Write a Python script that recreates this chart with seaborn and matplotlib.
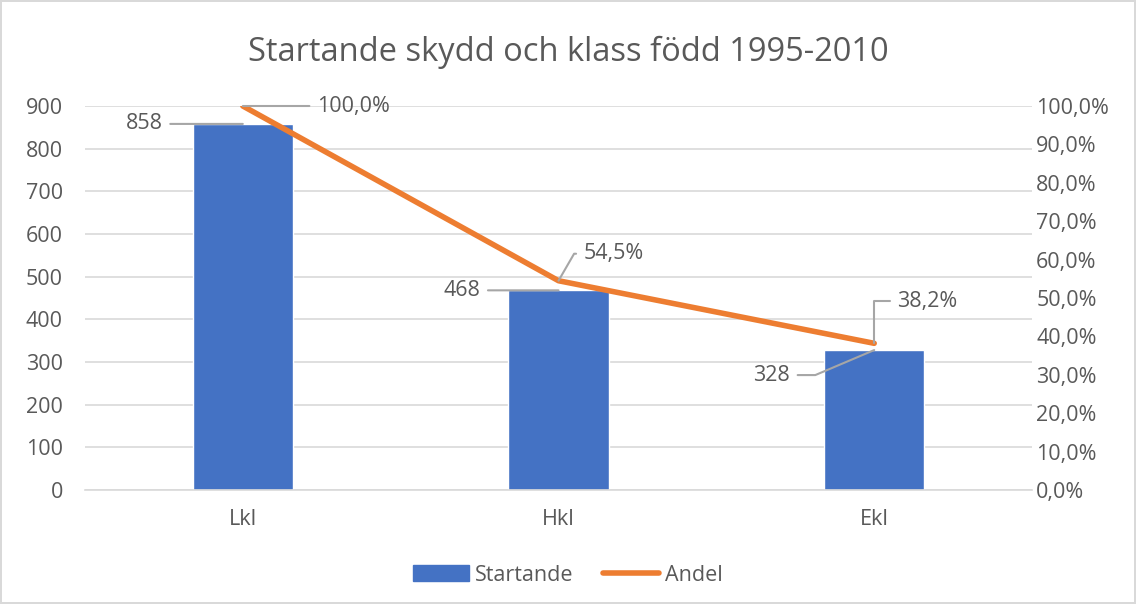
import numpy as np
import matplotlib
matplotlib.use("Agg")
import matplotlib.pyplot as plt
from matplotlib.ticker import FuncFormatter
from matplotlib.lines import Line2D
from matplotlib.patches import Patch
import pandas as pd
import seaborn as sns

# data
klasser = ["Lkl", "Hkl", "Ekl"]
startande = [858, 468, 328]
andel = [1.0, 0.545, 0.382]

BLUE = "#4472C4"
ORANGE = "#ED7D31"
TXT = "#595959"
GRID = "#D9D9D9"
LEAD = "#A6A6A6"
FS = 15.5

sns.set_theme(style="white")
plt.rcParams["font.family"] = ["Open Sans", "DejaVu Sans"]

df = pd.DataFrame({"klass": klasser, "Startande": startande, "Andel": andel})

fig = plt.figure(figsize=(11.36, 6.04), dpi=100)
fig.patch.set_edgecolor(GRID)
fig.patch.set_linewidth(1.5)
ax = fig.add_axes([0.0748, 0.1887, 0.8337, 0.6358])

sns.barplot(data=df, x="klass", y="Startande", color=BLUE, width=0.317,
            saturation=1, ax=ax, zorder=2)
ax.set_ylim(0, 900)
ax.set_yticks(np.arange(0, 901, 100))
ax.set_xlim(-0.5, 2.5)
ax.yaxis.grid(True, color=GRID, lw=1.2, zorder=0)
ax.set_axisbelow(True)
for s in ["top", "left", "right"]:
    ax.spines[s].set_visible(False)
ax.spines["bottom"].set_color(GRID)
ax.spines["bottom"].set_linewidth(1.2)
ax.set_xlabel("")
ax.set_ylabel("")
ax.tick_params(axis="both", length=0, labelsize=FS, colors=TXT)
ax.tick_params(axis="x", pad=14)
ax.tick_params(axis="y", pad=16)

ax2 = ax.twinx()
sns.lineplot(data=df, x="klass", y="Andel", color=ORANGE, lw=4,
             sort=False, ax=ax2, zorder=3)
ax2.set_ylim(0, 1.0)
ax2.set_yticks(np.arange(0, 1.01, 0.1))
ax2.yaxis.set_major_formatter(FuncFormatter(lambda v, p: f"{v*100:.1f}%".replace(".", ",")))
ax2.set_ylabel("")
for s in ax2.spines.values():
    s.set_visible(False)
ax2.tick_params(axis="y", length=0, labelsize=FS, colors=TXT, pad=3)
ax2.set_xlim(-0.5, 2.5)

# data labels with leader lines
def lab(a, x, y, txt, dx, dy, ha, conn="arc3"):
    a.annotate(txt, xy=(x, y), xytext=(dx, dy), textcoords="offset pixels",
               ha=ha, va="center", fontsize=FS, color=TXT, zorder=5,
               arrowprops=dict(arrowstyle="-", color=LEAD, lw=1.5,
                               shrinkA=3, shrinkB=0, connectionstyle=conn))

lab(ax, 0, startande[0], f"{startande[0]}", -80, 0, "right")
lab(ax, 1, startande[1], f"{startande[1]}", -78, 0, "right")
lab(ax, 2, startande[2], f"{startande[2]}", -84, -25, "right",
    "angle,angleA=0,angleB=23,rad=0")

pct = lambda v: f"{v*100:.1f}%".replace(".", ",")
lab(ax2, 0, andel[0], pct(andel[0]), 74, 0, "left")
lab(ax2, 1, andel[1], pct(andel[1]), 25, 27, "left",
    "angle,angleA=0,angleB=60,rad=0")
lab(ax2, 2, andel[2], pct(andel[2]), 23, 42, "left",
    "angle,angleA=0,angleB=90,rad=0")

fig.suptitle("Startande skydd och klass född 1995-2010", y=0.94,
             fontsize=23.5, color=TXT)

handles = [Patch(facecolor=BLUE, edgecolor=BLUE),
           Line2D([0], [0], color=ORANGE, lw=4)]
fig.legend(handles, ["Startande", "Andel"], loc="center", ncol=2,
           bbox_to_anchor=(0.5, 0.048), frameon=False, fontsize=FS,
           labelcolor=TXT, handlelength=2.6, handletextpad=0.25,
           columnspacing=1.4)

fig.savefig("out.png", dpi=100)
